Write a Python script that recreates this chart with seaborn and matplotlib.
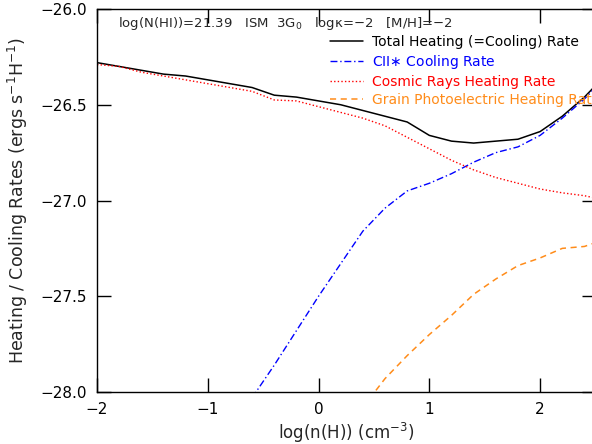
import numpy as np
import pandas as pd
import matplotlib
matplotlib.use("Agg")
import matplotlib.pyplot as plt
import seaborn as sns

# log density grid (cm^-3)
log_nh = [-2.0, -1.8, -1.6, -1.4, -1.2, -1.0, -0.8, -0.6, -0.4, -0.2, 0.0, 0.2,
          0.4, 0.6, 0.8, 1.0, 1.2, 1.4, 1.6, 1.8, 2.0, 2.2, 2.4, 2.6]

# log rates (ergs s^-1 H^-1)
total_rate = [-26.28, -26.30, -26.32, -26.34, -26.35, -26.37, -26.39, -26.41,
              -26.45, -26.46, -26.48, -26.50, -26.53, -26.56, -26.59, -26.66,
              -26.69, -26.70, -26.69, -26.68, -26.64, -26.56, -26.46, -26.34]
cosmic_rate = [-26.29, -26.30, -26.33, -26.35, -26.37, -26.39, -26.41, -26.43,
               -26.475, -26.48, -26.51, -26.54, -26.57, -26.61, -26.67, -26.73,
               -26.79, -26.84, -26.88, -26.91, -26.94, -26.96, -26.975, -27.00]

log_nh_cii = [-0.6, -0.4, -0.2, 0.0, 0.2, 0.4, 0.6, 0.8, 1.0, 1.2, 1.4, 1.6,
              1.8, 2.0, 2.2, 2.4, 2.6]
cii_rate = [-28.03, -27.86, -27.68, -27.50, -27.33, -27.16, -27.04, -26.95,
            -26.91, -26.86, -26.80, -26.75, -26.72, -26.66, -26.57, -26.47, -26.35]

log_nh_pe = [0.4, 0.6, 0.8, 1.0, 1.2, 1.4, 1.6, 1.8, 2.0, 2.2, 2.4, 2.6]
pe_rate = [-28.08, -27.93, -27.81, -27.70, -27.60, -27.49, -27.41, -27.34,
           -27.30, -27.25, -27.24, -27.20]

labels = ["Total Heating (=Cooling) Rate", "CII$\\ast$ Cooling Rate",
          "Cosmic Rays Heating Rate", "Grain Photoelectric Heating Rate"]
colors = ["black", "#0000ff", "#ff0000", "#ff8c1a"]

sns.set_theme(style="ticks")
plt.rcParams["font.family"] = ["DejaVu Sans"]
plt.rcParams["mathtext.fontset"] = "dejavusans"

fig = plt.figure(figsize=(5.92, 4.44), dpi=100)
ax = fig.add_axes([97 / 592, 52 / 444, (595.5 - 97) / 592, (392 - 9) / 444])

sns.lineplot(x=log_nh, y=total_rate, ax=ax, color=colors[0], lw=1.1,
             label=labels[0], sort=False)
sns.lineplot(x=log_nh_cii, y=cii_rate, ax=ax, color=colors[1], lw=1.0,
             label=labels[1], sort=False, linestyle=(0, (5, 2, 1, 2)))
sns.lineplot(x=log_nh, y=cosmic_rate, ax=ax, color=colors[2], lw=1.0,
             label=labels[2], sort=False, linestyle=(0, (1, 1.6)))
sns.lineplot(x=log_nh_pe, y=pe_rate, ax=ax, color=colors[3], lw=1.1,
             label=labels[3], sort=False, linestyle=(0, (4, 3)))

ax.set_xlim(-2, 2.5)
ax.set_ylim(-28.0, -26.0)
ax.set_xticks([-2, -1, 0, 1, 2])
ax.set_xticklabels(["\u22122", "\u22121", "0", "1", "2"])
ax.set_yticks([-28.0, -27.5, -27.0, -26.5, -26.0])
ax.set_yticklabels(["\u221228.0", "\u221227.5", "\u221227.0", "\u221226.5", "\u221226.0"])
ax.tick_params(direction="in", length=10, width=1, top=True, right=True,
               labelsize=11, pad=7, colors="black")
for s in ax.spines.values():
    s.set_linewidth(1.0)
    s.set_color("black")

ax.set_xlabel("log(n(H)) (cm$^{-3}$)", fontsize=12, labelpad=3)
ax.set_ylabel("Heating / Cooling Rates (ergs s$^{-1}$H$^{-1}$)", fontsize=12.5,
              labelpad=8)

ax.text(0.043, 0.963, "log(N(HI))=21.39   ISM  3G$_0$   log\u03ba=\u22122   [M/H]=\u22122",
        transform=ax.transAxes, fontsize=9.5, va="center", ha="left")

leg = ax.legend(loc="upper left", bbox_to_anchor=(330 / 592, 1 - 35 / 444),
                bbox_transform=fig.transFigure, frameon=False, fontsize=10,
                handlelength=2.4, handletextpad=0.6, labelspacing=0.28,
                borderaxespad=0, borderpad=0)
for txt, c in zip(leg.get_texts(), colors):
    txt.set_color(c)

fig.savefig("out.png", dpi=100)
